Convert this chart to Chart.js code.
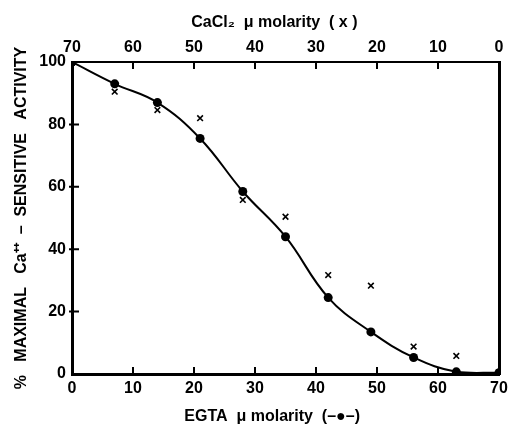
<!DOCTYPE html>
<html lang="en">
<head>
    <meta charset="UTF-8">
    <title>EGTA / CaCl2 activity</title>
    <script src="https://cdn.jsdelivr.net/npm/chart.js@4/dist/chart.umd.min.js"></script>
    <style>
        body { margin: 0; background: #fff; }
        .chart-box { width: 513px; height: 426px; position: relative; }
    </style>
</head>
<body>
    <div class="chart-box">
        <canvas id="activityChart"></canvas>
    </div>

    <script>
        // EGTA series (dots, bottom axis)
        const egtaMicromolar = [0, 7, 14, 21, 28, 35, 42, 49, 56, 63, 70];
        const egtaActivity = [100, 93, 87, 75.5, 58.5, 44, 24.5, 13.5, 5.3, 0.7, 0.4];

        // CaCl2 series (crosses, top axis, reversed)
        const caclMicromolar = [70, 63, 56, 49, 42, 35, 28, 21, 14, 7, 0];
        const caclActivity = [100, 90.5, 84.6, 82, 55.8, 50.4, 31.7, 28.3, 8.8, 5.8, 0.5];

        const xTicks = [0, 10, 20, 30, 40, 50, 60, 70];
        const yTicks = [0, 20, 40, 60, 80, 100];

        const FONT = 'Liberation Sans, Arial, sans-serif';

        // ticks in the reference point into the plot, so draw them by hand
        const innerTicks = {
            id: 'innerTicks',
            afterDraw(chart) {
                const ctx = chart.ctx;
                const area = chart.chartArea;
                const len = 7;
                ctx.save();
                ctx.strokeStyle = '#000';
                ctx.lineWidth = 2;
                ctx.beginPath();
                xTicks.slice(1, -1).forEach(v => {
                    const px = chart.scales.x.getPixelForValue(v);
                    ctx.moveTo(px, area.bottom);
                    ctx.lineTo(px, area.bottom - len);
                    const pt = chart.scales.x2.getPixelForValue(v);
                    ctx.moveTo(pt, area.top);
                    ctx.lineTo(pt, area.top + len);
                });
                yTicks.slice(1, -1).forEach(v => {
                    const py = chart.scales.y.getPixelForValue(v);
                    ctx.moveTo(area.left - 3, py);
                    ctx.lineTo(area.left + len, py);
                });
                ctx.stroke();
                ctx.restore();
            }
        };

        const toPoints = (xs, ys) => xs.map((x, i) => ({ x: x, y: ys[i] }));

        new Chart(document.getElementById('activityChart'), {
            type: 'scatter',
            data: {
                datasets: [{
                    label: 'EGTA',
                    data: toPoints(egtaMicromolar, egtaActivity),
                    xAxisID: 'x',
                    yAxisID: 'y',
                    showLine: true,
                    tension: 0.4,
                    borderColor: '#000',
                    backgroundColor: '#000',
                    borderWidth: 2,
                    pointRadius: 4.5,
                    pointBorderWidth: 0
                }, {
                    label: 'CaCl2',
                    data: toPoints(caclMicromolar, caclActivity),
                    xAxisID: 'x2',
                    yAxisID: 'y',
                    showLine: false,
                    pointStyle: 'crossRot',
                    pointRadius: 4,
                    borderColor: '#000',
                    borderWidth: 1.6
                }]
            },
            options: {
                responsive: true,
                maintainAspectRatio: false,
                animation: false,
                events: [],
                plugins: {
                    legend: { display: false },
                    tooltip: { enabled: false }
                },
                scales: {
                    x: {
                        type: 'linear',
                        position: 'bottom',
                        min: 0,
                        max: 70,
                        afterFit: s => { s.height = 52; },
                        afterBuildTicks: s => { s.ticks = xTicks.map(v => ({ value: v })); },
                        grid: { display: true, drawOnChartArea: false, drawTicks: false },
                        border: { display: true, color: '#000', width: 3 },
                        ticks: { color: '#000', padding: 5, maxRotation: 0, font: { family: FONT, size: 16, weight: 'bold' } },
                        title: {
                            display: true,
                            text: 'EGTA  \u03bc molarity  (\u2013\u25cf\u2013)      ',
                            color: '#000',
                            padding: 0,
                            font: { family: FONT, size: 16, weight: 'bold' }
                        }
                    },
                    x2: {
                        type: 'linear',
                        position: 'top',
                        reverse: true,
                        min: 0,
                        max: 70,
                        afterFit: s => { s.height = 62; },
                        afterBuildTicks: s => { s.ticks = xTicks.map(v => ({ value: v })); },
                        grid: { display: true, drawOnChartArea: false, drawTicks: false },
                        border: { display: true, color: '#000', width: 2 },
                        ticks: { color: '#000', padding: 5, maxRotation: 0, font: { family: FONT, size: 16, weight: 'bold' } },
                        title: {
                            display: true,
                            text: 'CaCl\u2082  \u03bc molarity  ( x )     ',
                            color: '#000',
                            padding: { top: 13, bottom: 0 },
                            font: { family: FONT, size: 16, weight: 'bold' }
                        }
                    },
                    y: {
                        type: 'linear',
                        position: 'left',
                        min: 0,
                        max: 100,
                        afterFit: s => { s.width = 72; },
                        afterBuildTicks: s => { s.ticks = yTicks.map(v => ({ value: v })); },
                        grid: { display: true, drawOnChartArea: false, drawTicks: false },
                        border: { display: true, color: '#000', width: 3 },
                        ticks: { color: '#000', padding: 6, font: { family: FONT, size: 16, weight: 'bold' } },
                        title: {
                            display: true,
                            text: '%   MAXIMAL   Ca\u207a\u207a  \u2013  SENSITIVE   ACTIVITY',
                            color: '#000',
                            padding: { top: 12, bottom: 0 },
                            font: { family: FONT, size: 16, weight: 'bold' }
                        }
                    },
                    y2: {
                        type: 'linear',
                        position: 'right',
                        min: 0,
                        max: 100,
                        afterFit: s => { s.width = 14; },
                        grid: { display: true, drawOnChartArea: false, drawTicks: false },
                        border: { display: true, color: '#000', width: 3 },
                        ticks: { display: false }
                    }
                }
            },
            plugins: [innerTicks]
        });
    </script>
</body>
</html>
